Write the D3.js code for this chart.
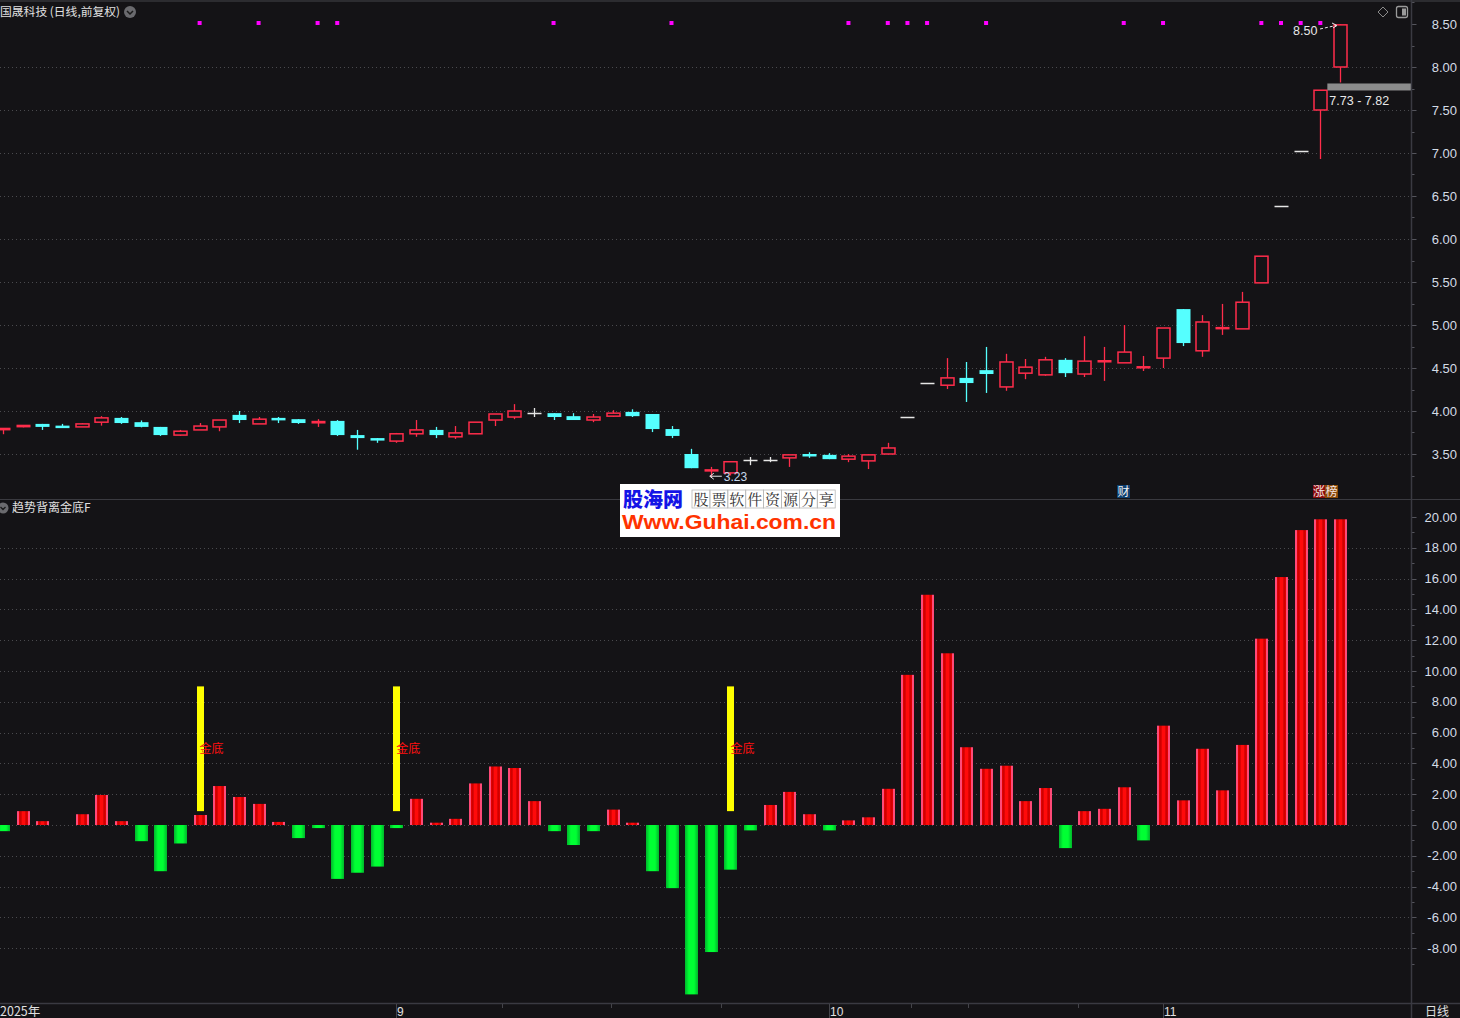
<!DOCTYPE html>
<html><head><meta charset="utf-8">
<script src="https://cdn.jsdelivr.net/npm/d3@7"></script>
<style>
html,body{margin:0;padding:0;background:#141316;overflow:hidden}
svg{display:block}
</style></head>
<body>
<svg id="c" width="1460" height="1018"></svg>
<script>
// ---------------- DATA ----------------
const opens  = [3.78,3.815,3.85,3.83,3.815,3.87,3.92,3.87,3.815,3.72,3.78,3.815,3.955,3.85,3.92,3.905,3.86,3.885,3.72,3.685,3.65,3.735,3.78,3.70,3.735,3.895,3.93,3.975,3.975,3.94,3.895,3.94,3.99,3.965,3.79,3.50,3.305,3.28,3.43,3.43,3.455,3.50,3.49,3.44,3.42,3.50,3.93,4.325,4.30,4.385,4.475,4.28,4.44,4.42,4.595,4.43,4.575,4.56,4.505,4.615,5.185,4.70,4.96,4.955,5.49,6.38,7.02,7.50,8.00];
const closes = [3.80,3.835,3.815,3.825,3.85,3.92,3.86,3.815,3.72,3.765,3.825,3.895,3.895,3.905,3.895,3.86,3.88,3.72,3.685,3.665,3.735,3.78,3.72,3.745,3.87,3.965,4.00,3.975,3.93,3.895,3.93,3.975,3.94,3.79,3.71,3.335,3.318,3.41,3.43,3.43,3.49,3.475,3.44,3.475,3.49,3.57,3.93,4.325,4.385,4.325,4.43,4.57,4.51,4.595,4.44,4.58,4.587,4.685,4.517,4.965,4.79,5.035,4.972,5.265,5.80,6.38,7.02,7.73,8.49];
const highs  = [3.80,3.835,3.85,3.85,3.86,3.94,3.93,3.89,3.815,3.78,3.86,3.895,4.00,3.93,3.93,3.905,3.905,3.895,3.78,3.685,3.745,3.895,3.815,3.825,3.87,3.965,4.08,4.035,3.975,3.975,3.965,4.01,4.02,3.965,3.825,3.56,3.35,3.41,3.465,3.465,3.49,3.52,3.51,3.50,3.49,3.63,3.93,4.325,4.615,4.57,4.745,4.665,4.605,4.63,4.615,4.87,4.745,5.00,4.64,4.965,5.185,5.115,5.245,5.385,5.80,6.38,7.02,7.73,8.50];
const lows   = [3.73,3.81,3.78,3.81,3.815,3.83,3.85,3.81,3.71,3.71,3.78,3.765,3.86,3.85,3.86,3.85,3.815,3.71,3.55,3.63,3.63,3.70,3.685,3.675,3.735,3.825,3.905,3.93,3.895,3.895,3.87,3.93,3.93,3.755,3.685,3.335,3.23,3.25,3.37,3.405,3.35,3.455,3.44,3.405,3.325,3.50,3.93,4.325,4.255,4.105,4.21,4.235,4.37,4.41,4.395,4.395,4.35,4.56,4.465,4.50,4.755,4.63,4.885,4.955,5.49,6.38,7.02,6.93,7.82];
const indicator = [-0.4,0.9,0.25,0,0.7,1.95,0.25,-1.05,-3.0,-1.2,0.65,2.53,1.82,1.37,0.2,-0.85,-0.2,-3.5,-3.1,-2.7,-0.2,1.7,0.15,0.4,2.7,3.8,3.7,1.55,-0.4,-1.3,-0.4,1.0,0.15,-3.0,-4.1,-11.0,-8.25,-2.9,-0.35,1.3,2.15,0.7,-0.35,0.3,0.5,2.35,9.75,14.95,11.15,5.05,3.65,3.85,1.55,2.4,-1.5,0.9,1.05,2.45,-1.0,6.45,1.6,4.95,2.25,5.2,12.1,16.1,19.15,19.85,19.85];
const goldBottomIdx = [10,20,37];
const goldBottomRange = [0.9,9.0];
const signalDotIdx = [10,13,16,17,28,34,43,45,46,47,50,57,59,64,65,66,67];
const priceTicks = [3.5,4.0,4.5,5.0,5.5,6.0,6.5,7.0,7.5,8.0,8.5];
const indTicks = [-8,-6,-4,-2,0,2,4,6,8,10,12,14,16,18,20];
const monthIdx = [20,42,59];
const monthText = ["9","10","11"];
const minorDateIdx = [25.4,30.9,36.5,46.2,49.1,54.7];

// ---------------- LAYOUT ----------------
const W = 1460, H = 1018, axisX = 1411.5;
const svg = d3.select("#c");
const FONT = "'Liberation Sans', Arial, sans-serif";
const CJK = "'Noto Sans CJK SC', sans-serif";
const axisCol = "#3a3a42", gridCol = "#4a4a4e", lblCol = "#d4dce6";
const RED = "#ff2d4b", CYAN = "#55ffff", WHITE = "#e6e6e6";

const n = closes.length;
const x = d3.scaleLinear().domain([0, n-1]).range([3, 1340]);
const yP = d3.scaleLinear().domain([3.5, 8.5]).range([454, 24]);
const yI = d3.scaleLinear().domain([-8, 20]).range([948.2, 517]);

const defs = svg.append("defs");
function grad(id, stops){
  const g = defs.append("linearGradient").attr("id", id).attr("x1","0").attr("x2","1").attr("y1","0").attr("y2","0");
  stops.forEach(s => g.append("stop").attr("offset", s[0]).attr("stop-color", s[1]));
}
grad("gRed", [[0,"#ff4a78"],[0.12,"#ff4a78"],[0.14,"#ee0000"],[0.3,"#c80000"],[0.42,"#ff0a0a"],[0.58,"#ff0a0a"],[0.7,"#c80000"],[0.86,"#ee0000"],[0.88,"#ff4a78"],[1,"#ff4a78"]]);
grad("gGreen", [[0,"#00b82a"],[0.15,"#00d830"],[0.3,"#00ff33"],[0.7,"#00ff33"],[0.85,"#00d830"],[1,"#00b82a"]]);

svg.append("rect").attr("width", W).attr("height", H).attr("fill", "#141316");
svg.append("rect").attr("x",0).attr("y",0).attr("width",W).attr("height",2).attr("fill","#2c2c30");

// ---------------- TOP PANEL ----------------
const topG = svg.append("g");
topG.selectAll(".pg").data(priceTicks.filter(v => v < 8.4)).join("line")
  .attr("x1", 0).attr("x2", axisX).attr("y1", d => Math.round(yP(d))+0.5).attr("y2", d => Math.round(yP(d))+0.5)
  .attr("stroke", gridCol).attr("stroke-dasharray", "1,3");
const pMinor = d3.range(3.25, 8.76, 0.25);
topG.selectAll(".pt").data(pMinor).join("line")
  .attr("x1", axisX).attr("x2", d => axisX + (Math.abs(d*2 - Math.round(d*2)) < 1e-6 ? 5 : 3))
  .attr("y1", d => Math.round(yP(d))+0.5).attr("y2", d => Math.round(yP(d))+0.5)
  .attr("stroke", "#55555c");
topG.selectAll(".pl").data(priceTicks).join("text")
  .attr("x", 1457).attr("y", d => yP(d)+4.5).attr("text-anchor","end")
  .attr("font-family", FONT).attr("font-size", 13).attr("fill", lblCol)
  .text(d => d.toFixed(2));

topG.selectAll(".sd").data(signalDotIdx).join("rect")
  .attr("x", d => x(d)-2).attr("y", 21).attr("width", 4).attr("height", 4).attr("fill", "#ff00ff");

const cw = 14;
const cg = topG.append("g");
for (let i = 0; i < n; i++) {
  const o = opens[i], c = closes[i], h = highs[i], l = lows[i];
  const cx = Math.round(x(i)) + 0.5;
  if (Math.abs(o - c) < 1e-9) {
    const yy = Math.round(yP(c)) + 0.5;
    cg.append("line").attr("x1", cx-7).attr("x2", cx+7).attr("y1", yy).attr("y2", yy).attr("stroke", WHITE).attr("stroke-width", 1.5);
    if (h - l > 1e-9) cg.append("line").attr("x1", cx).attr("x2", cx).attr("y1", yP(h)).attr("y2", yP(l)).attr("stroke", WHITE).attr("stroke-width", 1.3);
  } else if (c > o) {
    const yt = yP(c), yb = yP(o);
    if (yb - yt < 3) {
      cg.append("line").attr("x1", cx).attr("x2", cx).attr("y1", yP(h)).attr("y2", yP(l)).attr("stroke", RED).attr("stroke-width", 1.3);
      cg.append("rect").attr("x", cx-7).attr("y", yt-0.5).attr("width", cw).attr("height", Math.max(2.5, yb-yt+1)).attr("fill", RED);
    } else {
      if (h > c) cg.append("line").attr("x1", cx).attr("x2", cx).attr("y1", yP(h)).attr("y2", yt).attr("stroke", RED).attr("stroke-width", 1.3);
      if (l < o) cg.append("line").attr("x1", cx).attr("x2", cx).attr("y1", yb).attr("y2", yP(l)).attr("stroke", RED).attr("stroke-width", 1.3);
      cg.append("rect").attr("x", cx-6.5).attr("y", yt).attr("width", cw-1).attr("height", yb-yt)
        .attr("fill", "#141316").attr("stroke", RED).attr("stroke-width", 1.5);
    }
  } else {
    cg.append("line").attr("x1", cx).attr("x2", cx).attr("y1", yP(h)).attr("y2", yP(l)).attr("stroke", CYAN).attr("stroke-width", 1.3);
    cg.append("rect").attr("x", cx-7).attr("y", yP(o)).attr("width", cw).attr("height", Math.max(2.5, yP(c)-yP(o))).attr("fill", CYAN);
  }
}

const lastI = n-1;
topG.append("rect").attr("x", x(lastI-1)+7).attr("y", yP(7.82)+1).attr("width", axisX - (x(lastI-1)+7)).attr("height", 7).attr("fill", "#8c8c8c");
topG.append("text").attr("x", x(lastI-1)+9).attr("y", 105).attr("font-family", FONT).attr("font-size", 12.5).attr("fill", "#e8e8e8").text("7.73 - 7.82");
topG.append("text").attr("x", 1293).attr("y", 35).attr("font-family", FONT).attr("font-size", 12.5).attr("fill", "#e8e8e8").text("8.50");
topG.append("line").attr("x1", 1320).attr("y1", 29).attr("x2", x(lastI)-4).attr("y2", yP(8.5)+1.5).attr("stroke", "#e8e8e8").attr("stroke-dasharray", "3,2");
topG.append("path").attr("d", `M${x(lastI)-8},${yP(8.5)-1} L${x(lastI)-3},${yP(8.5)+1.5} L${x(lastI)-7},${yP(8.5)+4}`).attr("fill","none").attr("stroke","#e8e8e8");
const lowY = yP(3.23);
topG.append("path").attr("d", `M${x(36)-1},${lowY-1} L${x(36)+11},${lowY-1} M${x(36)-1},${lowY-1} l4,-3 M${x(36)-1},${lowY-1} l4,3`).attr("stroke", "#e8e8e8").attr("fill","none");
topG.append("text").attr("x", x(36)+13).attr("y", lowY+4).attr("font-family", FONT).attr("font-size", 12).attr("fill", "#c8d8ec").text("3.23");

topG.append("text").attr("x", 0).attr("y", 16).attr("font-family", CJK).attr("font-size", 11.8).attr("fill", "#e0e0e0").text("国晟科技 (日线,前复权)");
topG.append("circle").attr("cx", 130).attr("cy", 12).attr("r", 6).attr("fill", "#6a6a6e");
topG.append("path").attr("d", "M127,11 L130,14 L133,11").attr("stroke", "#1a1a1a").attr("stroke-width", 1.5).attr("fill", "none");
topG.append("path").attr("d", "M1383,7 L1388,12 L1383,17 L1378,12 Z").attr("fill","none").attr("stroke","#8a8a8a");
topG.append("rect").attr("x",1396.5).attr("y",6.5).attr("width",11).attr("height",11).attr("rx",2).attr("fill","none").attr("stroke","#9a9a9a").attr("stroke-width",1.3);
topG.append("rect").attr("x",1402).attr("y",8.5).attr("width",4).attr("height",7).attr("fill","#9a9a9a");

topG.append("rect").attr("x",1117).attr("y",485).attr("width",13).attr("height",13).attr("fill","#0d3e6e");
topG.append("text").attr("x",1123.5).attr("y",496).attr("text-anchor","middle").attr("font-family",CJK).attr("font-size",12).attr("fill","#f0f0f0").text("财");
topG.append("rect").attr("x",1313).attr("y",485).attr("width",12).attr("height",13).attr("fill","#8a0a0a");
topG.append("rect").attr("x",1325).attr("y",485).attr("width",13).attr("height",13).attr("fill","#8a4a08");
topG.append("text").attr("x",1319).attr("y",496).attr("text-anchor","middle").attr("font-family",CJK).attr("font-size",12).attr("fill","#f4e4e4").text("涨");
topG.append("text").attr("x",1331.5).attr("y",496).attr("text-anchor","middle").attr("font-family",CJK).attr("font-size",12).attr("fill","#f4e4e4").text("榜");

svg.append("line").attr("x1",0).attr("x2",W).attr("y1",499.5).attr("y2",499.5).attr("stroke","#3a3a40");

// ---------------- BOTTOM PANEL ----------------
const bot = svg.append("g");
bot.selectAll(".ig").data(indTicks.filter(v => v < 19)).join("line")
  .attr("x1", 0).attr("x2", axisX).attr("y1", d => Math.round(yI(d))+0.5).attr("y2", d => Math.round(yI(d))+0.5)
  .attr("stroke", gridCol).attr("stroke-dasharray", "1,3");
const iMinor = d3.range(-9, 21, 1);
bot.selectAll(".it").data(iMinor).join("line")
  .attr("x1", axisX).attr("x2", d => axisX + (d % 2 === 0 ? 5 : 3))
  .attr("y1", d => Math.round(yI(d))+0.5).attr("y2", d => Math.round(yI(d))+0.5)
  .attr("stroke", "#55555c");
bot.selectAll(".il").data(indTicks).join("text")
  .attr("x", 1457).attr("y", d => yI(d)+4.5).attr("text-anchor","end")
  .attr("font-family", FONT).attr("font-size", 13).attr("fill", lblCol)
  .text(d => d.toFixed(2));

bot.selectAll(".ib").data(indicator.map((v,i)=>({v,i})).filter(d => d.v !== 0)).join("rect")
  .attr("x", d => Math.round(x(d.i)) - 6).attr("width", 13)
  .attr("y", d => d.v > 0 ? yI(d.v) : yI(0))
  .attr("height", d => Math.max(2, Math.abs(yI(d.v) - yI(0))))
  .attr("fill", d => d.v > 0 ? "url(#gRed)" : "url(#gGreen)");

bot.selectAll(".gb").data(goldBottomIdx).join("rect")
  .attr("x", d => Math.round(x(d)) - 3).attr("width", 7)
  .attr("y", yI(goldBottomRange[1])).attr("height", yI(goldBottomRange[0]) - yI(goldBottomRange[1]))
  .attr("fill", "#ffff00");
bot.selectAll(".gt").data(goldBottomIdx).join("text")
  .attr("x", d => x(d)).attr("y", 753)
  .attr("font-family", CJK).attr("font-size", 12).attr("fill", "#ff1010").text("金底");

bot.append("circle").attr("cx", 3).attr("cy", 508).attr("r", 5.5).attr("fill", "#6a6a6e");
bot.append("path").attr("d", "M0.5,507 L3,509.5 L5.5,507").attr("stroke", "#1a1a1a").attr("stroke-width", 1.3).attr("fill", "none");
bot.append("text").attr("x", 12).attr("y", 512).attr("font-family", CJK).attr("font-size", 12).attr("fill", "#e0e0e0").text("趋势背离金底F");

// ---------------- AXES FRAME ----------------
svg.append("line").attr("x1", axisX).attr("x2", axisX).attr("y1", 0).attr("y2", H).attr("stroke", axisCol).attr("stroke-width", 1.5);
svg.append("line").attr("x1", 0).attr("x2", W).attr("y1", 1003.5).attr("y2", 1003.5).attr("stroke", axisCol).attr("stroke-width", 1.5);

const dAx = svg.append("g");
dAx.append("text").attr("x", 0).attr("y", 1015.5).attr("font-family", CJK).attr("font-size", 12.5).attr("fill", "#e0e0e0").text("2025年");
dAx.selectAll(".ms").data(monthIdx).join("line")
  .attr("x1", d => Math.round(x(d))+0.5).attr("x2", d => Math.round(x(d))+0.5).attr("y1", 1004).attr("y2", H).attr("stroke", "#44444a");
dAx.selectAll(".ml").data(monthIdx).join("text")
  .attr("x", d => Math.round(x(d))+1).attr("y", 1015.5).attr("font-family", FONT).attr("font-size", 12).attr("fill", "#e0e0e0")
  .text((d,i) => monthText[i]);
dAx.selectAll(".mt").data(minorDateIdx).join("line")
  .attr("x1", d => Math.round(x(d))+0.5).attr("x2", d => Math.round(x(d))+0.5).attr("y1", 1004).attr("y2", 1008).attr("stroke", "#44444a");
dAx.append("text").attr("x", 1425).attr("y", 1015.5).attr("font-family", CJK).attr("font-size", 12).attr("fill", "#e0e0e0").text("日线");

// ---------------- WATERMARK ----------------
const wm = svg.append("g");
wm.append("rect").attr("x", 620).attr("y", 484).attr("width", 220).attr("height", 53).attr("fill", "#ffffff");
wm.append("text").attr("x", 623).attr("y", 507).attr("font-family", CJK).attr("font-weight", 900).attr("font-size", 20).attr("fill", "#1414e6").text("股海网");
const cells = "股票软件资源分享".split("");
wm.selectAll(".cb").data(cells).join("rect")
  .attr("x", (d,i) => 692 + i*17.9).attr("y", 490).attr("width", 17.9).attr("height", 18)
  .attr("fill", "none").attr("stroke", "#b8b8b8").attr("stroke-width", 0.8);
wm.selectAll(".ct").data(cells).join("text")
  .attr("x", (d,i) => 692 + i*17.9 + 9).attr("y", 505).attr("text-anchor", "middle")
  .attr("font-family", "'Noto Serif CJK SC', " + CJK).attr("font-size", 15).attr("fill", "#333333").text(d => d);
wm.append("text").attr("x", 622).attr("y", 529).attr("font-family", "'Liberation Sans', Arial, sans-serif").attr("font-weight", "bold")
  .attr("font-size", 19.5).attr("fill", "#ff3300").attr("textLength", 214).attr("lengthAdjust", "spacingAndGlyphs").text("Www.Guhai.com.cn");
</script>
</body></html>
